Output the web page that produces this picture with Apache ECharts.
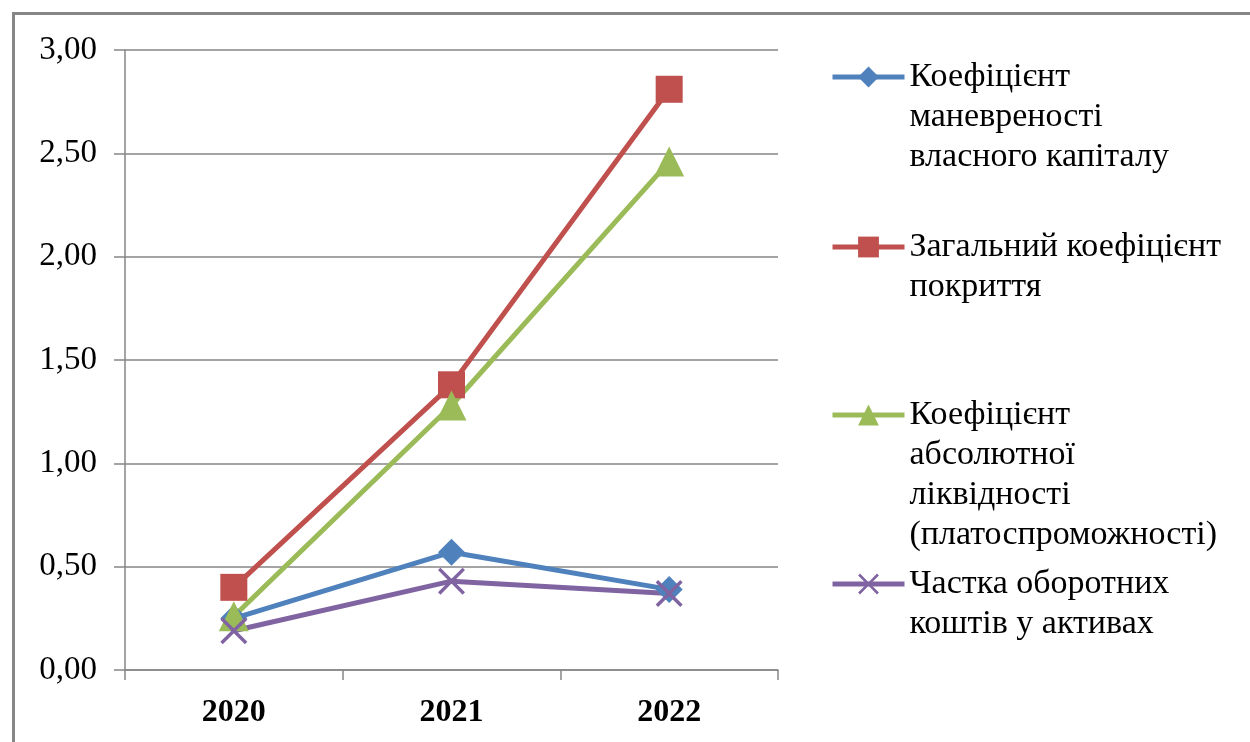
<!DOCTYPE html>
<html>
<head>
<meta charset="utf-8">
<script src="https://cdn.jsdelivr.net/npm/echarts@6/dist/echarts.min.js"></script>
<style>
  html, body { margin: 0; padding: 0; background: #fff; }
  #frame {
    position: absolute; left: 12px; top: 12px; width: 1400px; height: 900px;
    border-left: 3px solid #868686; border-top: 3px solid #868686;
    pointer-events: none; z-index: 2;
  }
  #myChart { position: absolute; left: 0; top: 0; width: 1250px; height: 742px; }
</style>
</head>
<body>
<div id="frame"></div>
<div id="myChart"></div>
<script>
// дані з графіка
var years = ["2020", "2021", "2022"];
var seriesNames = [
  "Коефіцієнт\nманевреності\nвласного капіталу",
  "Загальний коефіцієнт\nпокриття",
  "Коефіцієнт\nабсолютної\nліквідності\n(платоспроможності)",
  "Частка оборотних\nкоштів у активах"
];
var manevr = [0.25, 0.57, 0.39];
var pokryttia = [0.40, 1.38, 2.81];
var likvidnist = [0.26, 1.28, 2.46];
var chastka = [0.19, 0.43, 0.37];
var yTicks = [0, 0.5, 1, 1.5, 2, 2.5, 3];

var colors = ["#4F81BD", "#C0504D", "#9BBB59", "#8064A2"];
var font = "'Liberation Serif', 'Times New Roman', serif";
var crossPath = "path://M0,9L9,0L50,41L91,0L100,9L59,50L100,91L91,100L50,59L9,100L0,91L41,50Z";
var LH = 40;

// одна легенда на серію; порожні рядки зверху, щоб значок стояв навпроти першого рядка
function legendAt(idx, iconY) {
  var n = seriesNames[idx].split("\n").length;
  return {
    left: 830,
    top: iconY - (2 * n - 1) * LH / 2,
    padding: 0,
    itemWidth: 72,
    itemHeight: 26,
    data: [seriesNames[idx]],
    lineStyle: { width: 5 },
    formatter: function (name) {
      return " \n".repeat(n - 1) + name;
    },
    textStyle: { fontFamily: font, fontSize: 34, lineHeight: LH, color: "#000" },
    selectedMode: false
  };
}

function mkSeries(idx, data, symbol, size) {
  return {
    name: seriesNames[idx],
    type: "line",
    data: data,
    symbol: symbol,
    symbolSize: size,
    showAllSymbol: true,
    lineStyle: { width: 5, color: colors[idx] },
    itemStyle: { color: colors[idx] },
    emphasis: { disabled: true },
    animation: false
  };
}

var myChart = echarts.init(document.getElementById("myChart"));
myChart.setOption({
  backgroundColor: "#fff",
  animation: false,
  grid: { left: 125, top: 50, right: 472, bottom: 72, containLabel: false },
  legend: [
    legendAt(0, 77),
    legendAt(1, 247),
    legendAt(2, 415),
    legendAt(3, 584)
  ],
  xAxis: {
    type: "category",
    data: years,
    boundaryGap: true,
    axisLine: { lineStyle: { color: "#868686", width: 1.5 } },
    axisTick: { show: true, length: 10, lineStyle: { color: "#868686", width: 1.5 } },
    axisLabel: { fontFamily: font, fontSize: 32, fontWeight: "bold", color: "#000", margin: 27 }
  },
  yAxis: {
    type: "value",
    min: yTicks[0],
    max: yTicks[yTicks.length - 1],
    interval: yTicks[1] - yTicks[0],
    axisLine: { show: true, lineStyle: { color: "#868686", width: 1.5 } },
    axisTick: { show: true, length: 11, lineStyle: { color: "#868686", width: 1.5 } },
    splitLine: { lineStyle: { color: "#868686", width: 1.5 } },
    axisLabel: {
      fontFamily: font, fontSize: 33, color: "#000", margin: 28,
      formatter: function (v) { return v.toFixed(2).replace(".", ","); }
    }
  },
  series: [
    mkSeries(0, manevr, "diamond", 27),
    mkSeries(1, pokryttia, "rect", 27),
    mkSeries(2, likvidnist, "triangle", 30),
    mkSeries(3, chastka, crossPath, 27)
  ]
});
</script>
</body>
</html>
